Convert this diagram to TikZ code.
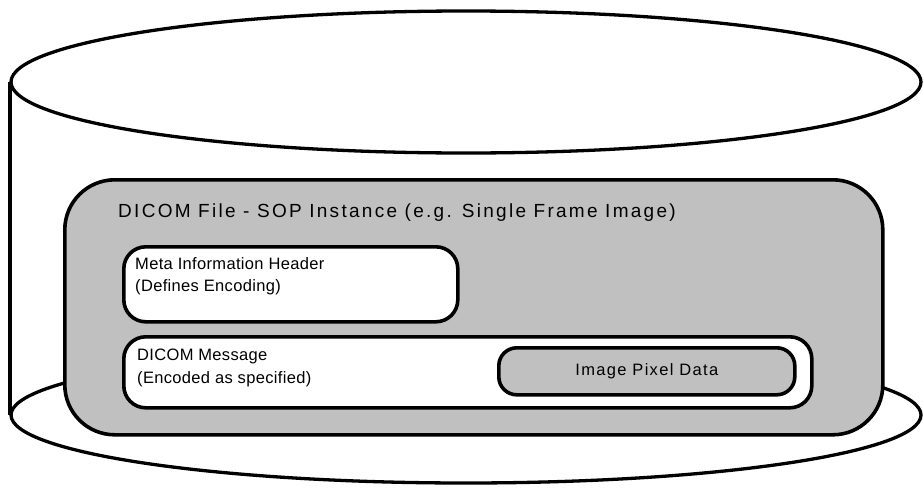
\documentclass[tikz,border=0pt]{standalone}
\usepackage{fontspec}
\setmainfont{Liberation Sans}
\definecolor{fillgray}{RGB}{192,192,192}
\tikzset{
  outline/.style={line width=3.3pt, draw=black},
  box/.style={rectangle, draw=black, line width=3.6pt, inner sep=0pt, anchor=north west},
  lbl/.style={inner sep=0pt, font=\fontsize{16.5pt}{22.5pt}\selectfont\addfontfeature{LetterSpace=2}, align=left, anchor=north west},
}
\begin{document}
\begin{tikzpicture}[x=1pt,y=-1pt]
\useasboundingbox (0,0) rectangle (923,490);
\fill[white] (0,0) rectangle (923,490);
% cylinder
\coordinate (bc) at (466,415);
\coordinate (tc) at (466,82);
\coordinate (sideTop) at (10,82);
\coordinate (sideBot) at (10,415);
\draw[outline] (bc) ellipse [x radius=455pt, y radius=68pt];
\draw[outline] (sideTop) -- (sideBot);
\draw[outline, fill=white] (tc) ellipse [x radius=455pt, y radius=71pt];
% file block
\node[box, fill=fillgray, rounded corners=50pt, minimum width=818pt, minimum height=255pt] (file) at (63,178) {};
\node[inner sep=0pt, anchor=base west, font=\fontsize{19pt}{22pt}\selectfont\addfontfeature{LetterSpace=12}] (title) at (118,217) {DICOM File - SOP Instance (e.g. Single Frame Image)};
% meta header
\node[box, fill=white, rounded corners=22pt, minimum width=334pt, minimum height=75pt] (meta) at (122,245) {};
\node[lbl] (metatext) at (135,257) {Meta Information Header\\(Defines Encoding)};
% dicom message
\node[box, fill=white, rounded corners=22pt, minimum width=688pt, minimum height=71pt] (msg) at (122,335) {};
\node[lbl] (msgtext) at (137,349) {DICOM Message\\(Encoded as specified)};
% pixel data
\node[box, fill=fillgray, rounded corners=18pt, minimum width=296pt, minimum height=47pt] (pix) at (497,346) {};
\node[font=\fontsize{16.5pt}{22pt}\selectfont\addfontfeature{LetterSpace=8}, inner sep=0pt] (pixtext) at (pix.center) {Image Pixel Data};
\end{tikzpicture}
\end{document}
